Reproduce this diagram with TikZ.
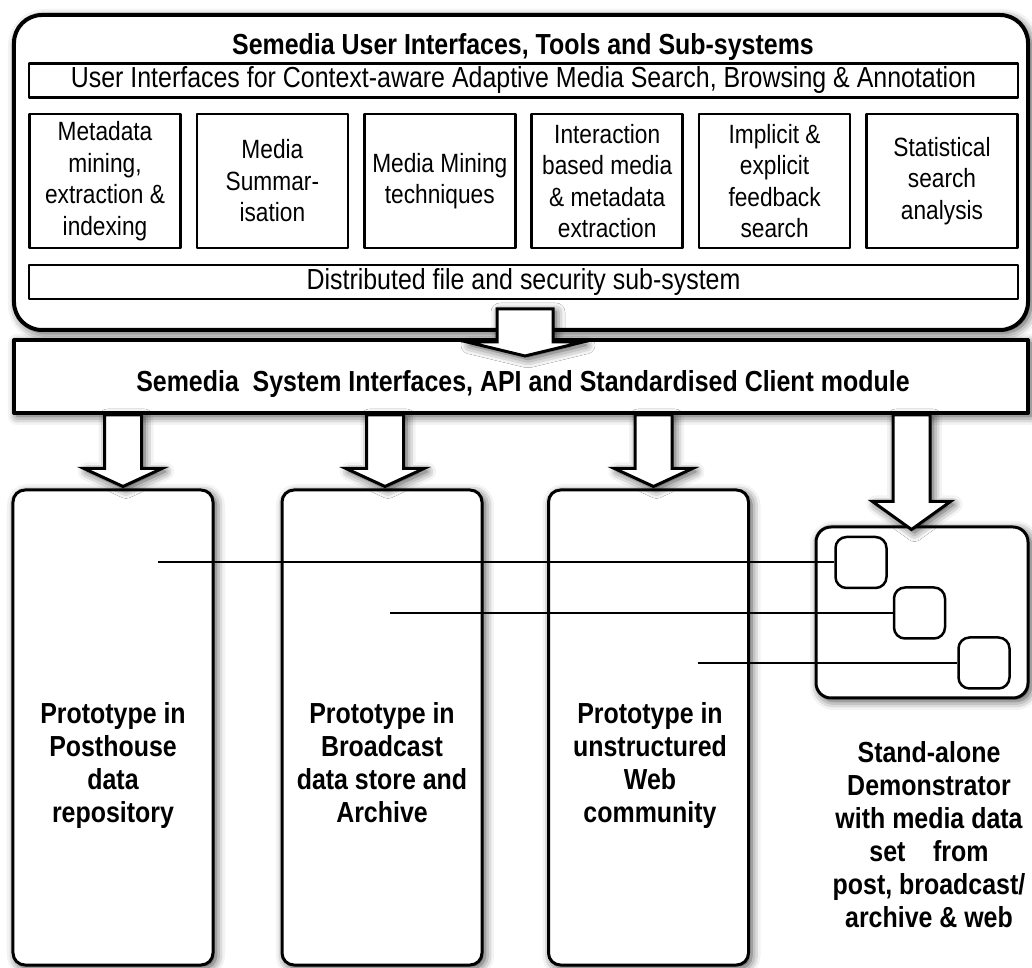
\documentclass[tikz,border=0pt]{standalone}
\usepackage{fontspec}
\setmainfont{Liberation Sans}[FakeStretch=0.86]
\usetikzlibrary{calc,positioning,shadows.blur}

\newcommand{\bigfont}{\fontsize{29bp}{33bp}\selectfont}
\newcommand{\toolfont}{\fontsize{26.4bp}{31.5bp}\selectfont}
% hollow block arrow: from (#1) down to tip (#2), head length #3, half shaft #4, half head #5
\newcommand{\fatarrow}[5]{%
  \draw[fatarrow] let \p1=(#1), \p2=(#2) in
    (\p2) -- ({\x2+#5},{\y2+#3}) -- ({\x2+#4},{\y2+#3}) -- ({\x2+#4},\y1)
    -- ({\x2-#4},\y1) -- ({\x2-#4},{\y2+#3}) -- ({\x2-#5},{\y2+#3}) -- cycle;}

\begin{document}
\begin{tikzpicture}[x=1bp,y=1bp,line join=round,
  softshadow/.style={blur shadow={shadow xshift=3bp,shadow yshift=-3bp,shadow blur radius=9bp,shadow opacity=75}},
  outerbox/.style={draw,line width=4bp,rounded corners=28bp,fill=white,softshadow,minimum width=1014bp,minimum height=315bp},
  strip/.style={draw,line width=2.5bp,minimum width=989bp,minimum height=34bp,inner sep=0pt,font=\bigfont},
  toolbox/.style={draw,line width=2.5bp,minimum width=151bp,minimum height=134bp,inner sep=0pt,align=center,font=\toolfont},
  apibox/.style={draw,line width=4bp,fill=white,softshadow,minimum width=1014bp,minimum height=73bp},
  protobox/.style={draw,line width=3bp,rounded corners=12bp,fill=white,softshadow,minimum width=200bp,minimum height=475bp},
  demobox/.style={draw,line width=3bp,rounded corners=15bp,fill=white,softshadow,minimum width=212bp,minimum height=171bp},
  smallbox/.style={draw,line width=2.5bp,rounded corners=11bp,fill=white,minimum size=51bp},
  boldtext/.style={align=center,font=\bigfont\bfseries,inner sep=0pt},
  fatarrow/.style={line width=3bp,fill=white,line join=miter,softshadow},
  link/.style={line width=2bp}]
\useasboundingbox (0,0) rectangle (1032,968);
  % Node: user interfaces, tools and sub-systems
  \node[outerbox] (usr) at (521,795.5) {};
  \node[boldtext,anchor=base] (title) at (523,913) {Semedia User Interfaces, Tools and Sub-systems};
  \node[strip] (ui) at (523.5,887.5) {User Interfaces for Context-aware Adaptive Media Search, Browsing \& Annotation};
  \node[toolbox] (t1) at (105,787) {Metadata\\mining,\\extraction \&\\indexing};
  \node[toolbox] (t2) at (272.4,787) {Media\\Summar-\\isation};
  \node[toolbox] (t3) at (439.8,787) {Media Mining\\techniques};
  \node[toolbox] (t4) at (607.2,787) {Interaction\\based media\\\& metadata\\extraction};
  \node[toolbox] (t5) at (774.6,787) {Implicit \&\\explicit\\feedback\\search};
  \node[toolbox] (t6) at (942,787) {Statistical\\search\\analysis};
  \node[strip] (dfs) at (523.5,686) {Distributed file and security sub-system};
  % Node: system interfaces
  \node[apibox] (api) at (521,591.5) {};
  \node[boldtext] (apitext) at (523,584) {Semedia~ System Interfaces, API and Standardised Client module};
  % Edge: usr -> api
  \fatarrow{[yshift=23bp]usr.south}{[xshift=4bp,yshift=-18bp]api.north}{14bp}{28bp}{58bp}
  % Node: prototypes
  \node[protobox] (p1) at (113,240.5) {};
  \node[protobox] (p2) at (382,240.5) {};
  \node[protobox] (p3) at (648.5,240.5) {};
  \node[boldtext,anchor=north] (p1text) at (113,266) {Prototype in\\Posthouse\\data\\repository};
  \node[boldtext,anchor=north] (p2text) at (382,266) {Prototype in\\Broadcast\\data store and\\Archive};
  \node[boldtext,anchor=north] (p3text) at (650,266) {Prototype in\\unstructured\\Web\\community};
  % Node: demonstrator
  \node[demobox] (demo) at (922,355.5) {};
  \node[smallbox] (s1) at (861,405.5) {};
  \node[smallbox] (s2) at (919.5,355) {};
  \node[smallbox] (s3) at (984,305) {};
  \node[boldtext,anchor=north] (demotext) at (929,227) {Stand-alone\\Demonstrator\\with media data\\set~~~ from\\post, broadcast/\\archive \& web};
  % Edge: api -> prototypes
  \fatarrow{api.south}{[xshift=10bp,yshift=2bp]p1.north}{18bp}{18.5bp}{39bp}
  \fatarrow{api.south}{[xshift=3bp,yshift=2bp]p2.north}{18bp}{18.5bp}{39bp}
  \fatarrow{api.south}{[xshift=5bp,yshift=2bp]p3.north}{18bp}{18.5bp}{39bp}
  \fatarrow{api.south}{[xshift=-10.5bp,yshift=-4bp]demo.north}{28bp}{18.5bp}{39bp}
  % Edge: prototypes -> demonstrator
  \coordinate (c1) at (158,405.5);
  \coordinate (c2) at (390,355);
  \coordinate (c3) at (698,305);
  \draw[link] (c1) -- (s1.west);
  \draw[link] (c2) -- (s2.west);
  \draw[link] (c3) -- (s3.west);
\end{tikzpicture}
\end{document}
